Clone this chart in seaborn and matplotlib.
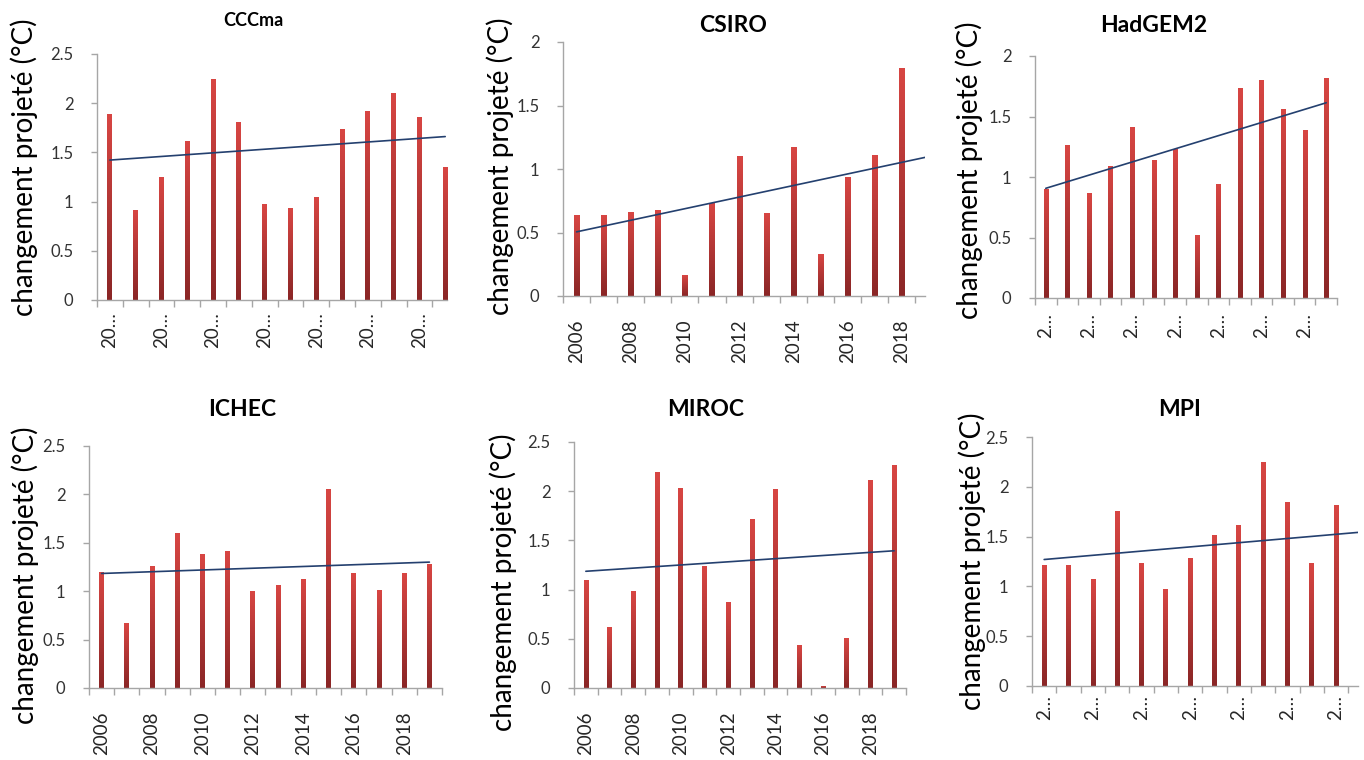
import matplotlib
matplotlib.use("Agg")
import matplotlib.pyplot as plt
import numpy as np
import pandas as pd
import seaborn as sns
from matplotlib.ticker import FixedLocator, FuncFormatter
from matplotlib.colors import LinearSegmentedColormap

# ---------------- data ----------------
years = list(range(2006, 2020))
label_years = [2006, 2008, 2010, 2012, 2014, 2016, 2018]

cccma = [1.89, 0.91, 1.24, 1.61, 2.24, 1.80, 0.97, 0.93, 1.04, 1.73, 1.92, 2.10, 1.85, 1.35]
csiro = [0.63, 0.63, 0.66, 0.67, 0.16, 0.73, 1.10, 0.65, 1.17, 0.33, 0.93, 1.11, 1.79, 0.66]
hadgem2 = [0.90, 1.26, 0.865, 1.09, 1.41, 1.14, 1.23, 0.52, 0.94, 1.73, 1.80, 1.555, 1.385, 1.815]
ichec = [1.195, 0.67, 1.255, 1.60, 1.38, 1.41, 1.00, 1.055, 1.12, 2.05, 1.18, 1.01, 1.18, 1.28]
miroc = [1.09, 0.615, 0.98, 2.195, 2.03, 1.235, 0.87, 1.71, 2.02, 0.43, 0.02, 0.505, 2.105, 2.26]
mpi = [1.21, 1.21, 1.07, 1.755, 1.225, 0.97, 1.285, 1.515, 1.61, 2.245, 1.84, 1.225, 1.81, 0.73]

titles = ["CCCma", "CSIRO", "HadGEM2", "ICHEC", "MIROC", "MPI"]
ylabel_text = "changement projeté (°C)"

labels_short2 = ["20…"] * 7
labels_full = [str(y) for y in label_years]
labels_short1 = ["2…"] * 7

yticks_25 = [0, 0.5, 1, 1.5, 2, 2.5]
yticks_20 = [0, 0.5, 1, 1.5, 2]

# ---------------- style ----------------
sns.set_theme(style="white")
plt.rcParams['font.family'] = ['Lato', 'DejaVu Sans']

W, H = 1364, 760
fig = plt.figure(figsize=(W / 100, H / 100), dpi=100)
fig.patch.set_facecolor("white")

BAR = "#BF3A35"
BAR_TOP = "#D84643"
BAR_BOTTOM = "#8A2626"
TREND = "#24406F"
GRAY = "#A6A6A6"
grad_cmap = LinearSegmentedColormap.from_list("bar", [BAR_BOTTOM, BAR_TOP])
grad = np.linspace(0, 1, 256).reshape(-1, 1)

# per-panel layout: (values, yticks, xlabels, axes px (left, top, right, bottom), xright,
#                    title px (x, y), title size, ylabel px (x, y), xtick pad)
panels = [
    (cccma, yticks_25, labels_short2, (97, 54, 447, 300), 2019.07, (253, 21), 13, (24, 167), 8.5),
    (csiro, yticks_20, labels_full, (563, 42, 925, 296), 2018.86, (733, 25), 16.5, (500, 166), 17),
    (hadgem2, yticks_20, labels_short1, (1035, 56, 1337, 298), 2019.5, (1154, 25), 16.5, (969, 170), 11),
    (ichec, yticks_25, labels_full, (89, 446, 442, 688), 2019.5, (242, 410), 16.5, (25, 575), 17),
    (miroc, yticks_25, labels_full, (574, 442, 906, 688), 2019.5, (706, 410), 16.5, (503, 582), 17),
    (mpi, yticks_25, labels_short1, (1032, 437, 1358, 686), 2018.9, (1180, 410), 16.5, (972, 561), 6.5),
]

for title, (vals, yt, xl, (l, t, r, b), xright, tpos, tsize, ypos, xpad) in zip(titles, panels):
    ax = fig.add_axes([l / W, 1 - b / H, (r - l) / W, (b - t) / H])
    df = pd.DataFrame({"year": years, "value": vals})
    sns.barplot(data=df, x="year", y="value", native_scale=True, width=0.19,
                color=BAR, saturation=1, errorbar=None, linewidth=0, ax=ax)
    # vertical gradient inside each bar (clipped to the bar drawn by seaborn and to the axes)
    for p in list(ax.patches):
        x0, y0 = p.get_x(), p.get_y()
        w, h = p.get_width(), p.get_height()
        im = ax.imshow(grad, cmap=grad_cmap, origin="lower", aspect="auto",
                       extent=(x0, x0 + w, y0, y0 + h), zorder=p.get_zorder() + 0.1,
                       interpolation="bilinear")
        im.set_clip_path(p)
        im.set_clip_box(ax.bbox)
        im.set_clip_on(True)
    sns.regplot(data=df, x="year", y="value", scatter=False, ci=None, truncate=True,
                line_kws=dict(color=TREND, lw=1.2, zorder=5), ax=ax)

    ax.set_xlim(2005.5, xright)
    ax.set_ylim(0, yt[-1])
    ax.set_aspect("auto")
    ax.set_xlabel("")
    ax.set_ylabel("")

    for s in ["top", "right"]:
        ax.spines[s].set_visible(False)
    for s in ["left", "bottom"]:
        ax.spines[s].set_color(GRAY)
        ax.spines[s].set_linewidth(1)

    ax.yaxis.set_major_locator(FixedLocator(yt))
    ax.yaxis.set_major_formatter(FuncFormatter(lambda v, p: f"{v:g}"))
    ax.tick_params(axis="y", which="major", length=4, width=1, color=GRAY, direction="out",
                   pad=13, labelsize=12, labelcolor="#333333", left=True)

    ax.xaxis.set_major_locator(FixedLocator(label_years))
    ax.set_xticklabels(xl, rotation=90)
    ax.xaxis.set_minor_locator(FixedLocator([y - 0.5 for y in years] + [years[-1] + 0.5]))
    ax.tick_params(axis="x", which="major", length=0, pad=xpad, labelsize=13.5,
                   labelcolor="#262626", bottom=True)
    ax.tick_params(axis="x", which="minor", length=5, width=1, color=GRAY,
                   direction="out", bottom=True)
    ax.grid(False)
    ax.set_facecolor("none")

    fig.text(tpos[0] / W, 1 - tpos[1] / H, title, ha="center", va="center",
             fontsize=tsize, fontweight="bold", color="black")
    fig.text(ypos[0] / W, 1 - ypos[1] / H, ylabel_text, rotation=90, ha="center",
             va="center", fontsize=20, color="black")

fig.savefig("out.png", dpi=100, facecolor="white")
